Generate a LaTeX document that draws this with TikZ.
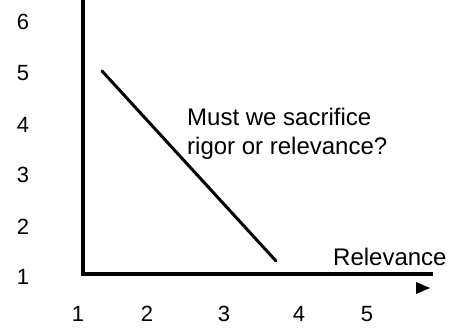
\documentclass[tikz,border=0pt]{standalone}
\usepackage{fontspec}
\setmainfont{Liberation Sans}
\usetikzlibrary{positioning}
\definecolor{axisblack}{RGB}{0,0,0}
\tikzset{
  ticklabel/.style={font=\fontsize{22}{26}\selectfont,inner sep=0pt,anchor=center},
  bigtext/.style={font=\fontsize{24}{29}\selectfont,inner sep=0pt},
  thickline/.style={draw=axisblack,line width=3pt}
}
\newcommand{\ylab}[2]{\node[ticklabel] (y#1) at (23,#2) {#1};}
\newcommand{\xlab}[2]{\node[ticklabel] (x#1) at (#2,314) {#1};}

\begin{document}
\begin{tikzpicture}[x=1pt,y=-1pt]
	\useasboundingbox (0,0) rectangle (462,328);
	\coordinate (top) at (83,0);
	\coordinate (origin) at (83,274);
	\coordinate (right) at (433,274);
	\draw[thickline,line width=3.5pt] (top) -- (origin) -- (right);
	\coordinate (start) at (102,71);
	\coordinate (stop) at (276,261);
	\draw[thickline,line cap=round] (start) -- (stop);
	\fill[axisblack] (416,282) -- (430,288) -- (416,294) -- cycle;
	\ylab{6}{22}\ylab{5}{73}\ylab{4}{125}\ylab{3}{175}\ylab{2}{227}\ylab{1}{277}
	\xlab{1}{78}\xlab{2}{147}\xlab{3}{224}\xlab{4}{299}\xlab{5}{367}
	\node[bigtext,anchor=base west] (rel) at (333,265) {Relevance};
	\node[bigtext,anchor=base west] (q1) at (187,126) {Must we sacrifice};
	\node[bigtext,below=29pt of q1.base west,anchor=base west] (q2) {rigor or relevance?};
\end{tikzpicture}
\end{document}
